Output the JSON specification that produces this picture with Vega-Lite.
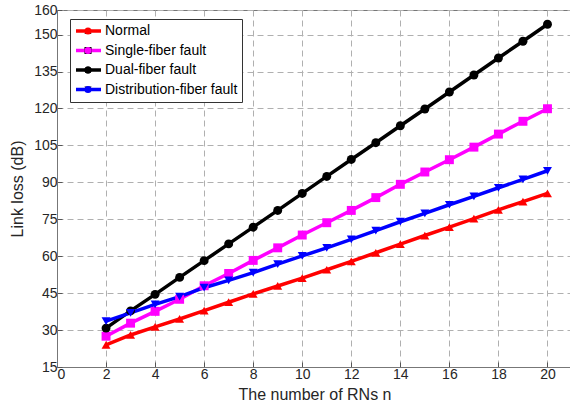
{
  "$schema": "https://vega.github.io/schema/vega-lite/v6.json",
  "autosize": "none",
  "padding": {"left": 57, "top": 10, "right": 0, "bottom": 52},
  "width": 515,
  "height": 357,
  "background": "white",
  "config": {
    "font": "Liberation Sans",
    "view": {"stroke": "#777777", "strokeWidth": 1},
    "axis": {
      "labelFont": "Liberation Sans",
      "titleFont": "Liberation Sans",
      "labelFontSize": 14,
      "titleFontSize": 16,
      "labelColor": "#262626",
      "titleColor": "#262626",
      "titleFontWeight": "normal",
      "domainColor": "#777777",
      "tickColor": "#555555",
      "tickSize": -5,
      "gridColor": "#b0b0b0",
      "gridDash": [6, 4],
      "gridWidth": 1
    }
  },
  "data": {
    "values": [
      {"n": 2, "series": "Normal", "loss": 24},
      {"n": 3, "series": "Normal", "loss": 28},
      {"n": 4, "series": "Normal", "loss": 31.3},
      {"n": 5, "series": "Normal", "loss": 34.5},
      {"n": 6, "series": "Normal", "loss": 37.9},
      {"n": 7, "series": "Normal", "loss": 41.3},
      {"n": 8, "series": "Normal", "loss": 44.7},
      {"n": 9, "series": "Normal", "loss": 47.9},
      {"n": 10, "series": "Normal", "loss": 51.1},
      {"n": 11, "series": "Normal", "loss": 54.5},
      {"n": 12, "series": "Normal", "loss": 57.9},
      {"n": 13, "series": "Normal", "loss": 61.4},
      {"n": 14, "series": "Normal", "loss": 64.9},
      {"n": 15, "series": "Normal", "loss": 68.4},
      {"n": 16, "series": "Normal", "loss": 71.8},
      {"n": 17, "series": "Normal", "loss": 75.3},
      {"n": 18, "series": "Normal", "loss": 78.8},
      {"n": 19, "series": "Normal", "loss": 82.2},
      {"n": 20, "series": "Normal", "loss": 85.5},
      {"n": 2, "series": "Single-fiber fault", "loss": 27.5},
      {"n": 3, "series": "Single-fiber fault", "loss": 32.8},
      {"n": 4, "series": "Single-fiber fault", "loss": 37.6},
      {"n": 5, "series": "Single-fiber fault", "loss": 42.5},
      {"n": 6, "series": "Single-fiber fault", "loss": 48},
      {"n": 7, "series": "Single-fiber fault", "loss": 53},
      {"n": 8, "series": "Single-fiber fault", "loss": 58.3},
      {"n": 9, "series": "Single-fiber fault", "loss": 63.4},
      {"n": 10, "series": "Single-fiber fault", "loss": 68.6},
      {"n": 11, "series": "Single-fiber fault", "loss": 73.6},
      {"n": 12, "series": "Single-fiber fault", "loss": 78.6},
      {"n": 13, "series": "Single-fiber fault", "loss": 83.8},
      {"n": 14, "series": "Single-fiber fault", "loss": 89.2},
      {"n": 15, "series": "Single-fiber fault", "loss": 94.2},
      {"n": 16, "series": "Single-fiber fault", "loss": 99.2},
      {"n": 17, "series": "Single-fiber fault", "loss": 104.3},
      {"n": 18, "series": "Single-fiber fault", "loss": 109.6},
      {"n": 19, "series": "Single-fiber fault", "loss": 114.8},
      {"n": 20, "series": "Single-fiber fault", "loss": 119.9},
      {"n": 2, "series": "Dual-fiber fault", "loss": 30.8},
      {"n": 3, "series": "Dual-fiber fault", "loss": 37.8},
      {"n": 4, "series": "Dual-fiber fault", "loss": 44.5},
      {"n": 5, "series": "Dual-fiber fault", "loss": 51.4},
      {"n": 6, "series": "Dual-fiber fault", "loss": 58.2},
      {"n": 7, "series": "Dual-fiber fault", "loss": 65},
      {"n": 8, "series": "Dual-fiber fault", "loss": 71.8},
      {"n": 9, "series": "Dual-fiber fault", "loss": 78.6},
      {"n": 10, "series": "Dual-fiber fault", "loss": 85.5},
      {"n": 11, "series": "Dual-fiber fault", "loss": 92.4},
      {"n": 12, "series": "Dual-fiber fault", "loss": 99.3},
      {"n": 13, "series": "Dual-fiber fault", "loss": 106.1},
      {"n": 14, "series": "Dual-fiber fault", "loss": 113},
      {"n": 15, "series": "Dual-fiber fault", "loss": 119.8},
      {"n": 16, "series": "Dual-fiber fault", "loss": 126.7},
      {"n": 17, "series": "Dual-fiber fault", "loss": 133.6},
      {"n": 18, "series": "Dual-fiber fault", "loss": 140.5},
      {"n": 19, "series": "Dual-fiber fault", "loss": 147.3},
      {"n": 20, "series": "Dual-fiber fault", "loss": 154.2},
      {"n": 2, "series": "Distribution-fiber fault", "loss": 33.6},
      {"n": 3, "series": "Distribution-fiber fault", "loss": 37},
      {"n": 4, "series": "Distribution-fiber fault", "loss": 40.4},
      {"n": 5, "series": "Distribution-fiber fault", "loss": 43.6},
      {"n": 6, "series": "Distribution-fiber fault", "loss": 47.2},
      {"n": 7, "series": "Distribution-fiber fault", "loss": 50.2},
      {"n": 8, "series": "Distribution-fiber fault", "loss": 53.3},
      {"n": 9, "series": "Distribution-fiber fault", "loss": 56.8},
      {"n": 10, "series": "Distribution-fiber fault", "loss": 60.1},
      {"n": 11, "series": "Distribution-fiber fault", "loss": 63.4},
      {"n": 12, "series": "Distribution-fiber fault", "loss": 66.8},
      {"n": 13, "series": "Distribution-fiber fault", "loss": 70.4},
      {"n": 14, "series": "Distribution-fiber fault", "loss": 74},
      {"n": 15, "series": "Distribution-fiber fault", "loss": 77.4},
      {"n": 16, "series": "Distribution-fiber fault", "loss": 80.9},
      {"n": 17, "series": "Distribution-fiber fault", "loss": 84.3},
      {"n": 18, "series": "Distribution-fiber fault", "loss": 87.8},
      {"n": 19, "series": "Distribution-fiber fault", "loss": 91.2},
      {"n": 20, "series": "Distribution-fiber fault", "loss": 94.7}
    ]
  },
  "encoding": {
    "x": {
      "field": "n",
      "type": "quantitative",
      "scale": {"domain": [0, 21], "nice": false},
      "axis": {"values": [0, 2, 4, 6, 8, 10, 12, 14, 16, 18, 20], "title": "The number of RNs n", "titlePadding": 5, "labelPadding": 5}
    },
    "y": {
      "field": "loss",
      "type": "quantitative",
      "scale": {"domain": [15, 160], "nice": false, "zero": false},
      "axis": {"values": [15, 30, 45, 60, 75, 90, 105, 120, 135, 150, 160], "title": "Link loss (dB)", "titlePadding": 8, "labelPadding": 5}
    }
  },
  "layer": [
    {
      "mark": {"type": "line", "strokeWidth": 3.5},
      "encoding": {
        "stroke": {
          "field": "series",
          "type": "nominal",
          "scale": {
            "domain": ["Normal", "Single-fiber fault", "Dual-fiber fault", "Distribution-fiber fault"],
            "range": ["#ff0000", "#ff00ff", "#000000", "#0000ff"]
          },
          "legend": {
            "title": null,
            "orient": "none",
            "legendX": 13,
            "legendY": 9,
            "padding": 4,
            "symbolType": "stroke",
            "symbolSize": 625,
            "symbolStrokeWidth": 3.5,
            "clipHeight": 16,
            "rowPadding": 3.5,
            "labelOffset": 2,
            "labelFont": "Liberation Sans",
            "labelFontSize": 14,
            "labelColor": "#000000",
            "labelLimit": 300,
            "strokeColor": "#333333",
            "fillColor": "white",
            "zindex": 1
          }
        }
      }
    },
    {
      "mark": {"type": "point", "filled": true, "size": 80, "opacity": 1},
      "encoding": {
        "fill": {
          "field": "series",
          "type": "nominal",
          "sort": ["Normal", "Single-fiber fault", "Dual-fiber fault", "Distribution-fiber fault"],
          "scale": {"range": ["#ff0000", "#ff00ff", "#000000", "#0000ff"]},
          "legend": {
            "title": null,
            "orient": "none",
            "legendX": 22,
            "legendY": 9,
            "padding": 4,
            "symbolSize": 50,
            "symbolOpacity": 1,
            "clipHeight": 16,
            "rowPadding": 3.5,
            "labelExpr": "''",
            "zindex": 2
          }
        },
        "shape": {
          "field": "series",
          "type": "nominal",
          "sort": ["Normal", "Single-fiber fault", "Dual-fiber fault", "Distribution-fiber fault"],
          "scale": {"range": ["triangle-up", "square", "circle", "triangle-down"]},
          "legend": {
            "title": null,
            "orient": "none",
            "legendX": 22,
            "legendY": 9,
            "padding": 4,
            "symbolSize": 50,
            "symbolOpacity": 1,
            "clipHeight": 16,
            "rowPadding": 3.5,
            "labelExpr": "''",
            "zindex": 2
          }
        }
      }
    }
  ]
}
